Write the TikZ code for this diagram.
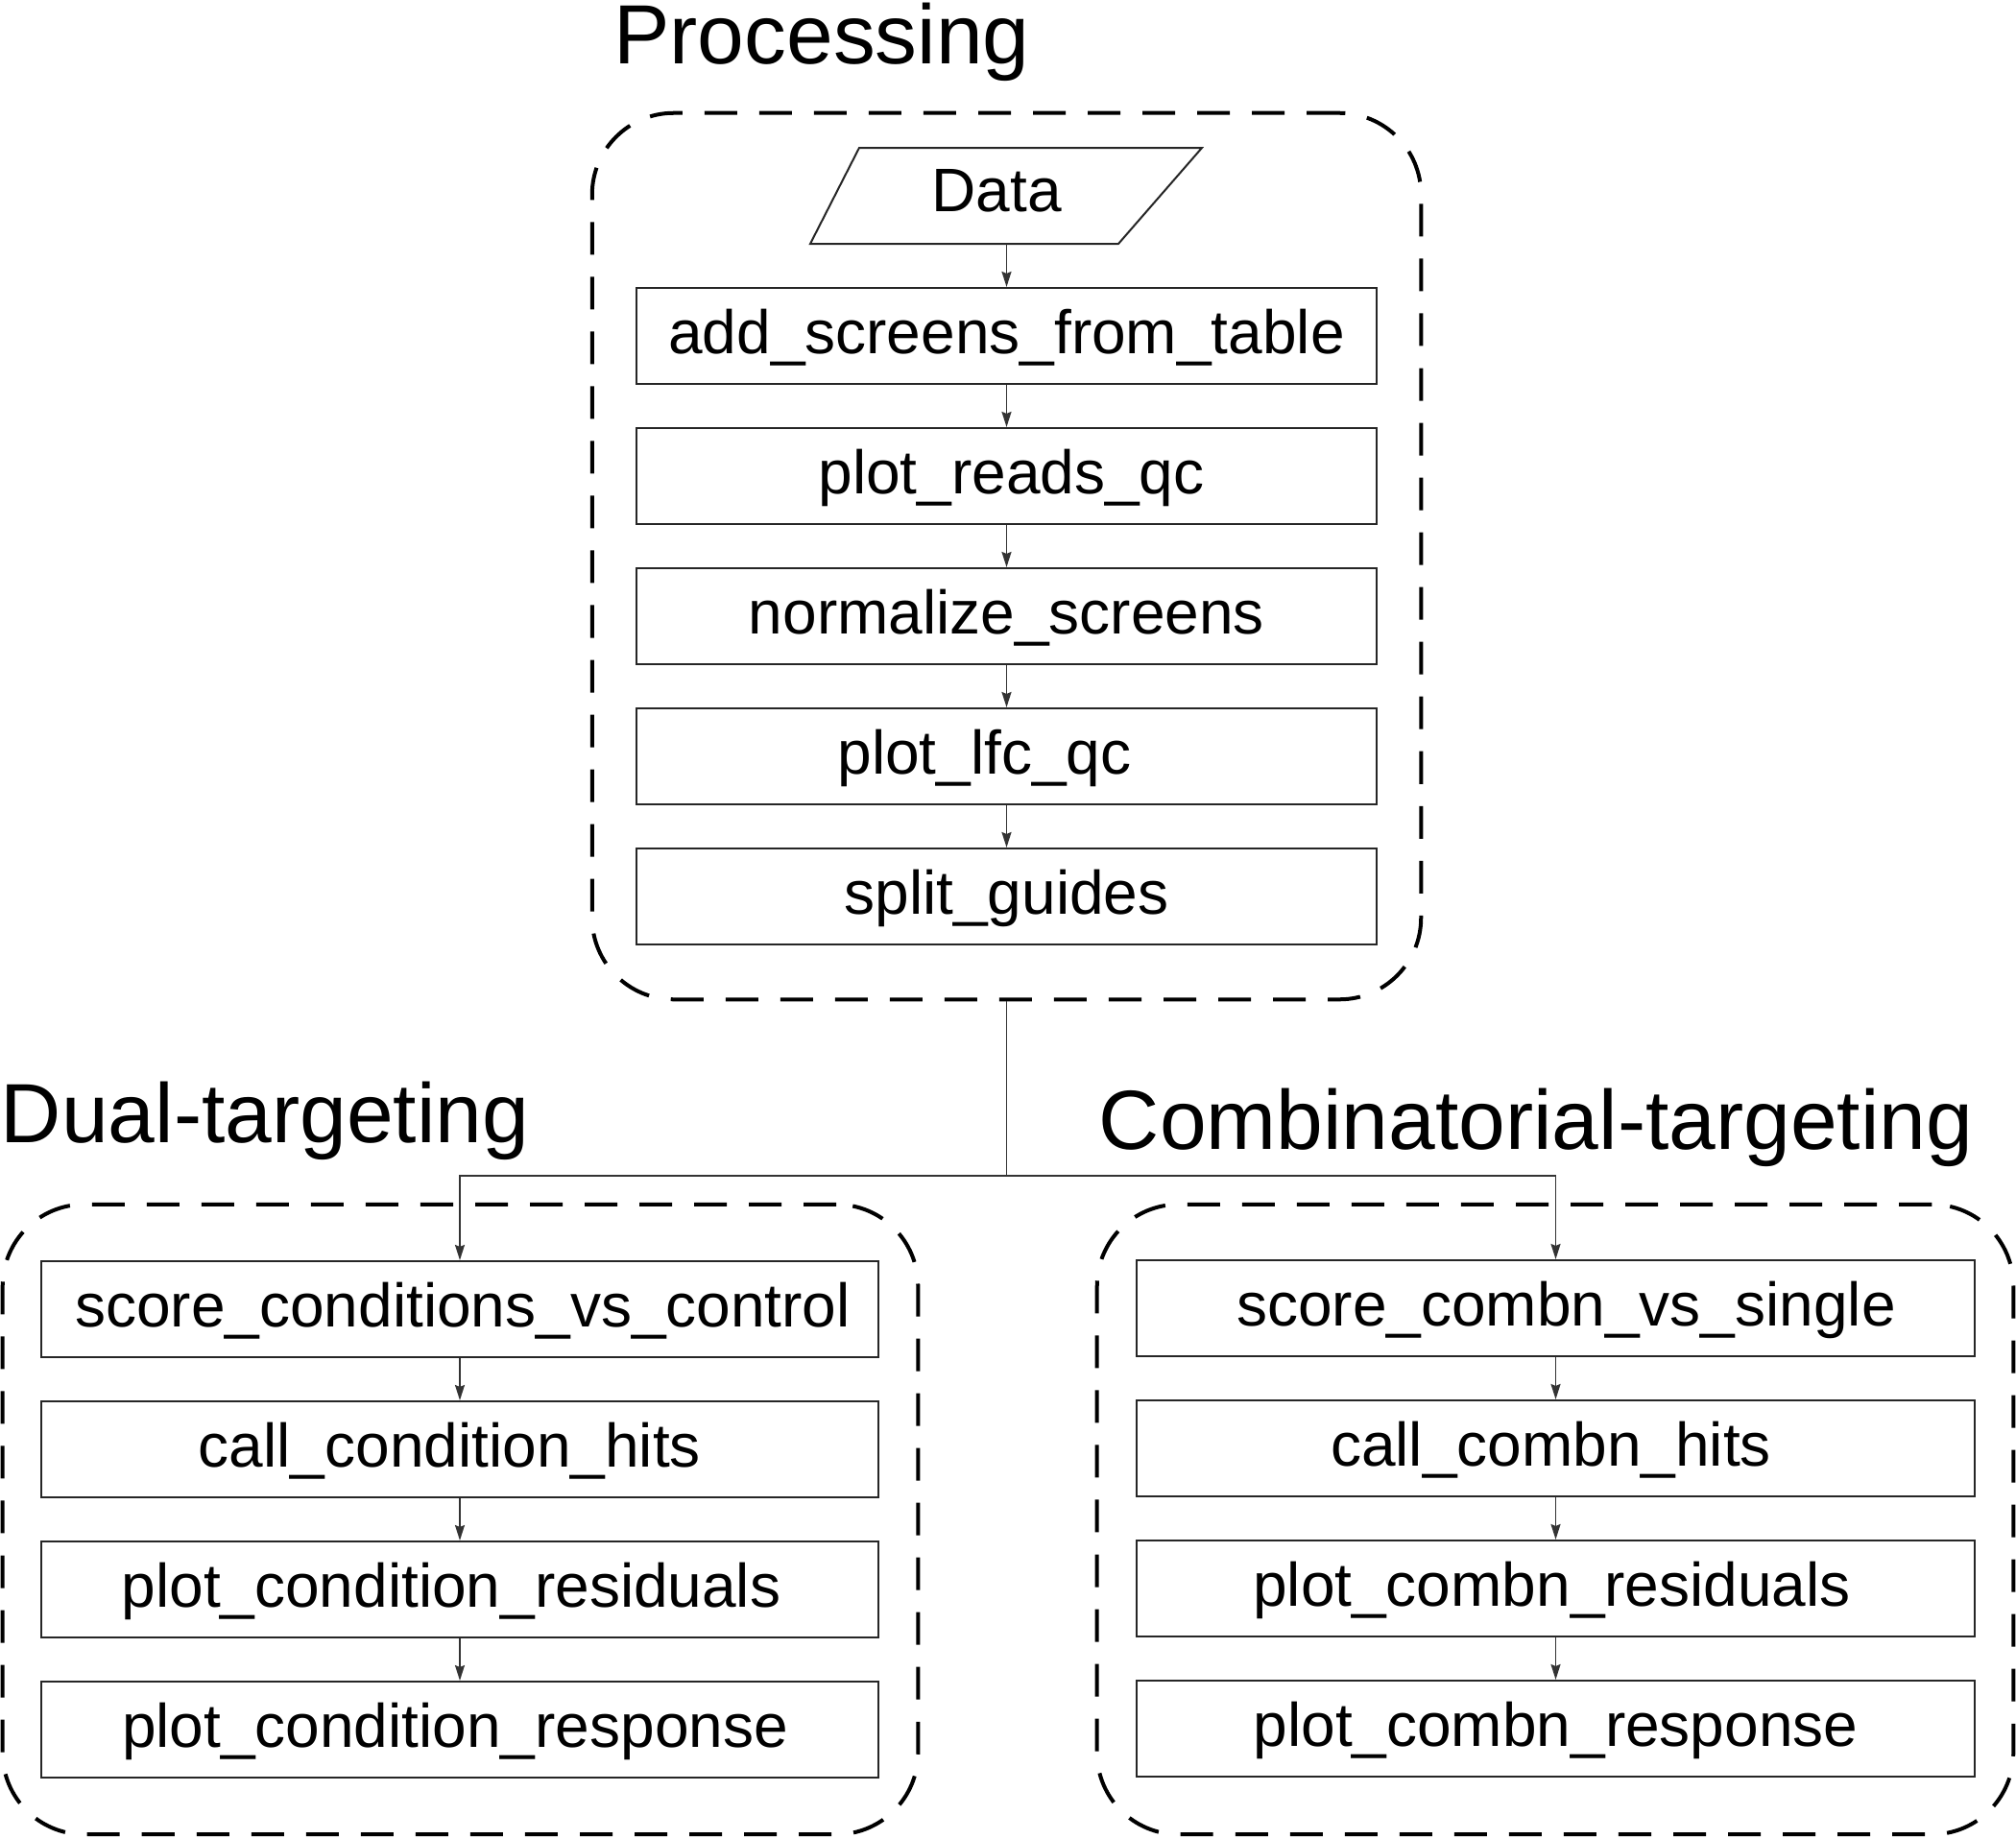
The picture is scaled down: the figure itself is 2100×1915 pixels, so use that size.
\documentclass[tikz,border=0pt]{standalone}
\usepackage{fontspec}
\setmainfont{Liberation Sans}
\usetikzlibrary{arrows.meta}
\begin{document}
\begin{tikzpicture}[x=0.01cm,y=-0.01cm,
  stepbox/.style={draw=black!85, line width=0.02cm, minimum height=1cm, inner sep=0pt,
    font=\fontsize{18.2}{20}\selectfont, text height=0.46cm, text depth=0.10cm},
  pbox/.style={stepbox, minimum width=7.71cm},
  sbox/.style={stepbox, minimum width=8.72cm},
  container/.style={draw=black, line width=0.04cm, rounded corners=0.85cm,
    dash pattern=on 0.34cm off 0.23cm, inner sep=0pt},
  titletext/.style={font=\fontsize{24.9}{28}\selectfont, anchor=base, inner sep=0pt},
  conn/.style={draw=black!80, line width=0.018cm},
  arr/.style={conn, -{Stealth[length=0.16cm, width=0.10cm, inset=0.02cm]}},
]
\useasboundingbox (0,0) rectangle (2100,1915);

% titles
\node[titletext] (tproc) at (856,67) {Processing};
\node[titletext] (tdual) at (276,1190) {Dual-targeting};
\node[titletext] (tcomb) at (1600,1197) {Combinatorial-targeting};

% containers
\node[container, minimum width=8.63cm, minimum height=9.23cm] (proc) at (1048.5,579.5) {};
\node[container, minimum width=9.53cm, minimum height=6.56cm] (dual) at (479.5,1583) {};
\node[container, minimum width=9.54cm, minimum height=6.56cm] (comb) at (1620,1583) {};

% data parallelogram
\draw[draw=black!85, line width=0.02cm] (895,154) -- (1252,154) -- (1165,254) -- (844,254) -- cycle;
\node[font=\fontsize{18.2}{20}\selectfont, inner sep=0pt, text height=0.46cm, text depth=0.10cm] (data) at (1038,202) {Data};
\coordinate (databot) at (1048.5,254);

% processing steps
\node[pbox] (p1) at (1048.5,350) {add\_screens\_from\_table};
\node[pbox] (p2) at (1048.5,496) {\hspace*{0.1cm}plot\_reads\_qc};
\node[pbox] (p3) at (1048.5,642) {normalize\_screens};
\node[pbox] (p4) at (1048.5,788) {plot\_lfc\_qc\hspace*{0.46cm}};
\node[pbox] (p5) at (1048.5,934) {split\_guides};

% dual steps
\node[sbox] (l1) at (479,1364) {\hspace*{0.06cm}score\_conditions\_vs\_control};
\node[sbox] (l2) at (479,1510) {call\_condition\_hits\hspace*{0.21cm}};
\node[sbox] (l3) at (479,1656) {plot\_condition\_residuals\hspace*{0.18cm}};
\node[sbox] (l4) at (479,1802) {plot\_condition\_response\hspace*{0.1cm}};

% combn steps
\node[sbox] (r1) at (1620.5,1363) {\hspace*{0.22cm}score\_combn\_vs\_single};
\node[sbox] (r2) at (1620.5,1509) {call\_combn\_hits\hspace*{0.1cm}};
\node[sbox] (r3) at (1620.5,1655) {plot\_combn\_residuals\hspace*{0.08cm}};
\node[sbox] (r4) at (1620.5,1801) {plot\_combn\_response};

% arrows
\draw[arr] (databot) -- (p1.north);
\draw[arr] (p1) -- (p2);
\draw[arr] (p2) -- (p3);
\draw[arr] (p3) -- (p4);
\draw[arr] (p4) -- (p5);
\draw[arr] (l1) -- (l2);
\draw[arr] (l2) -- (l3);
\draw[arr] (l3) -- (l4);
\draw[arr] (r1) -- (r2);
\draw[arr] (r2) -- (r3);
\draw[arr] (r3) -- (r4);

\coordinate (j) at (1048.5,1225);
\draw[conn] (proc.south) -- (j);
\draw[arr] (j) -| (l1.north);
\draw[arr] (j) -| (r1.north);
\end{tikzpicture}
\end{document}
